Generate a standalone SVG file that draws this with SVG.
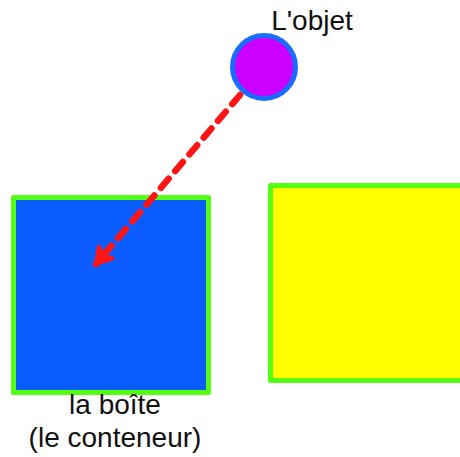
<svg xmlns="http://www.w3.org/2000/svg" width="460" height="457" viewBox="0 0 460 457">
<style>
.box{stroke:#55ff11;stroke-width:5;stroke-linejoin:round}
.lbl{font-family:"Liberation Sans",Arial,sans-serif;font-size:28px;fill:#111}
.conn{stroke:#ff1515;stroke-width:6.5;stroke-dasharray:12 10;stroke-linecap:round;fill:none}
</style>
<defs>
<marker id="ah" markerUnits="userSpaceOnUse" markerWidth="24" markerHeight="24" viewBox="0 0 24 24" refX="19" refY="12" orient="auto">
<path d="M4,3 L19,12 L4,21 L8,12 Z" fill="#ff1515" stroke="#ff1515" stroke-width="4" stroke-linejoin="round"/>
</marker>
</defs>
<rect width="460" height="457" fill="#ffffff"/>
<g id="box">
<rect class="box" x="13.5" y="197.5" width="195" height="195" fill="#0a5cff"/>
<text class="lbl" x="115" y="414" text-anchor="middle">la boîte</text>
<text class="lbl" x="115" y="447" text-anchor="middle">(le conteneur)</text>
</g>
<g id="yellow">
<rect class="box" x="270.5" y="185.5" width="200" height="195" fill="#ffff00"/>
</g>
<g id="objet">
<circle cx="264" cy="67" r="31.5" fill="#cc00ff" stroke="#1a6cff" stroke-width="5"/>
<text class="lbl" x="312" y="30" text-anchor="middle">L'objet</text>
</g>
<g id="connectors">
<line class="conn" x1="240" y1="95" x2="96" y2="264" marker-end="url(#ah)"/>
</g>
</svg>
